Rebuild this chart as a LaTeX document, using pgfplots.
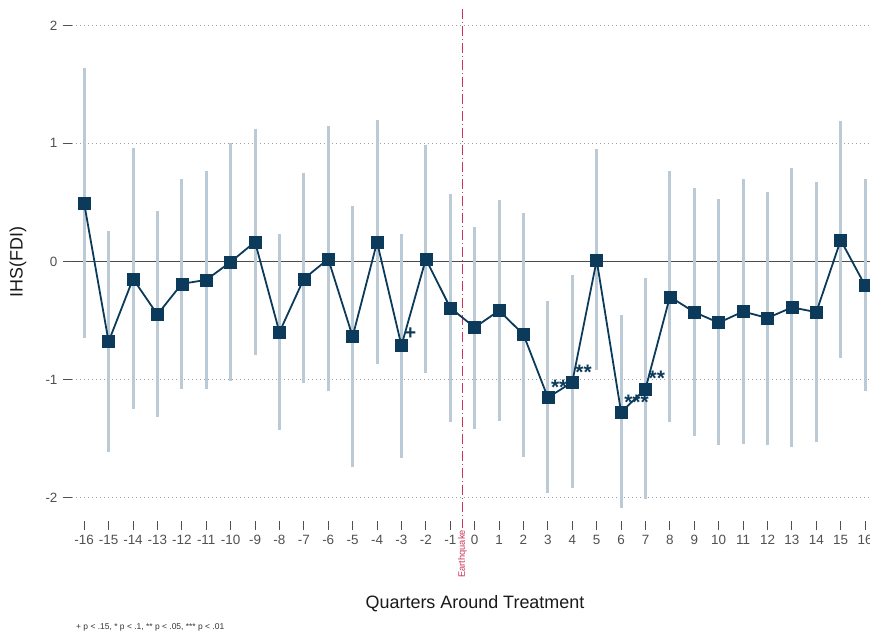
\documentclass[border=0pt]{standalone}
\usepackage{pgfplots}
\pgfplotsset{compat=1.18}
\usepackage{pgfplotstable}
\usepackage{fontspec}
\setmainfont{Liberation Sans}
\definecolor{navy}{HTML}{0B3A5B}
\definecolor{cibar}{HTML}{BCCAD5}
\definecolor{quake}{HTML}{CC3355}
\definecolor{ticklab}{HTML}{505050}

\pgfplotstableread{
x b lo hi
-16 0.49 -0.65 1.635
-15 -0.68 -1.617 0.257
-14 -0.148 -1.25 0.963
-13 -0.45 -1.32 0.426
-12 -0.19 -1.08 0.70
-11 -0.157 -1.083 0.77
-10 -0.005 -1.01 1.0
-9 0.165 -0.79 1.125
-8 -0.60 -1.43 0.235
-7 -0.148 -1.03 0.746
-6 0.02 -1.095 1.144
-5 -0.637 -1.745 0.469
-4 0.163 -0.87 1.195
-3 -0.713 -1.665 0.235
-2 0.02 -0.95 0.983
-1 -0.393 -1.357 0.574
0 -0.56 -1.42 0.29
1 -0.417 -1.35 0.52
2 -0.62 -1.654 0.41
3 -1.154 -1.965 -0.336
4 -1.024 -1.92 -0.119
5 0.01 -0.92 0.95
6 -1.278 -2.09 -0.455
7 -1.08 -2.01 -0.141
8 -0.30 -1.36 0.77
9 -0.43 -1.48 0.62
10 -0.52 -1.56 0.53
11 -0.425 -1.547 0.70
12 -0.48 -1.56 0.59
13 -0.39 -1.57 0.79
14 -0.43 -1.53 0.675
15 0.18 -0.82 1.19
16 -0.205 -1.10 0.70
}\coefs

\pgfplotstableread{
x b lab
3 -1.154 **
4 -1.024 **
6 -1.278 ***
7 -1.08 **
}\stars

\pgfplotstableread{
x b lab
-3 -0.713 +
}\plus

\begin{document}
\begin{tikzpicture}
\useasboundingbox (0,0) rectangle (870bp,635bp);
\clip (0,0) rectangle (870bp,635bp);
\begin{axis}[
  at={(72bp,114bp)}, anchor=south west, scale only axis,
  width=798bp, height=521bp,
  xmin=-16.5, xmax=16.2, ymin=-2.2, ymax=2.215,
  clip=false,
  axis x line*=bottom, axis y line*=left,
  axis line style={draw=none},
  tick align=outside, major tick length=9bp,
  tick style={color=ticklab, line width=0.9bp},
  xtick={-16,...,16}, ytick={-2,...,2},
  minor tick num=0,
  ymajorgrids,
  grid style={color=gray!75, line width=0.9bp, dash pattern=on 0.9bp off 3.1bp},
  /pgf/number format/assume math mode=true,
  ticklabel style={font=\fontsize{13.5}{16}\selectfont, text=ticklab},
  xticklabel style={yshift=-2bp},
  yticklabel style={xshift=-2bp},
]
% zero line
\addplot[color=black!70, line width=0.9bp] coordinates {(-16.5,0) (16.2,0)};
% confidence intervals
\addplot[draw=none, mark=none,
  error bars/.cd, y dir=both, y explicit, error mark=none,
  error bar style={color=cibar, line width=3bp}]
  table[x=x, y=b, y error plus expr=\thisrow{hi}-\thisrow{b},
        y error minus expr=\thisrow{b}-\thisrow{lo}] {\coefs};
% earthquake line
\addplot[color=quake, line width=1bp, dash pattern=on 10bp off 3bp on 1bp off 3bp]
  coordinates {(-0.5,2.14) (-0.5,-2.26)};
% estimates
\addplot[color=navy, line width=1.8bp, mark=square*, mark size=6bp,
  mark options={fill=navy, draw=navy, line width=0.5bp}]
  table[x=x, y=b] {\coefs};
% significance
\addplot[only marks, mark=none, nodes near coords, point meta=explicit symbolic,
  nodes near coords style={anchor=base west, font=\fontsize{21}{21}\selectfont\bfseries,
  text=navy, inner sep=0pt, xshift=3bp, yshift=3bp}]
  table[x=x, y=b, meta=lab] {\stars};
\addplot[only marks, mark=none, nodes near coords, point meta=explicit symbolic,
  nodes near coords style={anchor=base west, font=\fontsize{20}{20}\selectfont\bfseries,
  text=navy, inner sep=0pt, xshift=3bp, yshift=6bp}]
  table[x=x, y=b, meta=lab] {\plus};
\node[rotate=90, anchor=east, inner sep=0pt, font=\fontsize{9.3}{10}\selectfont, text=quake]
  at (axis cs:-0.5,-2.276) {Earthquake};
\end{axis}
\node[font=\fontsize{18}{20}\selectfont, text=black!90] at (475bp,31bp) {Quarters Around Treatment};
\node[rotate=90, font=\fontsize{18}{20}\selectfont, text=black!90] at (18bp,373bp) {IHS(FDI)};
\node[anchor=west, inner sep=0pt, font=\fontsize{8.5}{10}\selectfont, text=black!80] at (76bp,8bp) {+ p < .15, * p < .1, ** p < .05, *** p < .01};
\end{tikzpicture}
\end{document}
